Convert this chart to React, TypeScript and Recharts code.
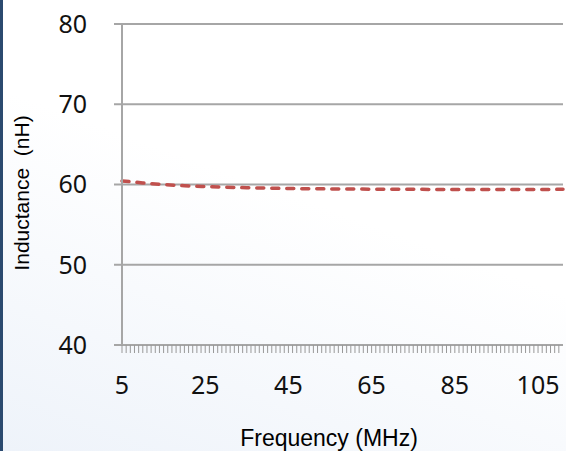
import React from 'react';
import { LineChart, Line, XAxis, YAxis, CartesianGrid, Label } from 'recharts';

const frequency = [5, 10, 15, 20, 25, 35, 45, 55, 65, 75, 85, 95, 105, 111];
const inductance = [60.45, 60.2, 60.0, 59.85, 59.75, 59.6, 59.5, 59.45, 59.42, 59.4, 59.38, 59.37, 59.38, 59.4];
const xLabels = [5, 25, 45, 65, 85, 105];
const yTicks = [40, 50, 60, 70, 80];

const data = frequency.map((f, i) => ({ f, l: inductance[i] }));
const minorTicks = Array.from({ length: 106 }, (_, i) => 5 + i);

const tickFont = "'Noto Sans', 'Open Sans', sans-serif";
const titleFont = "'Liberation Sans', Arial, sans-serif";
const grey = '#a6a6a6';

function XTick(props: any) {
  const { x, y, payload } = props;
  const showLabel = xLabels.includes(payload.value);
  return (
    <g>
      <line x1={x} y1={y} x2={x} y2={y + 8} stroke="#999" strokeWidth={1} />
      {showLabel && (
        <text x={x} y={y + 49} textAnchor="middle" fontSize={25} fill="#111" fontFamily={tickFont}>
          {payload.value}
        </text>
      )}
    </g>
  );
}

export default function App() {
  return (
    <div
      style={{
        position: 'absolute',
        left: 0,
        top: 0,
        width: 566,
        height: 451,
        background: 'linear-gradient(200deg, #ffffff 0%, #ffffff 45%, #eef3fa 100%)',
        borderLeft: '3px solid #2b4a6f',
        boxSizing: 'border-box',
      }}
    >
      <LineChart
        width={563}
        height={451}
        data={data}
        margin={{ top: 24, right: 3, bottom: 46, left: 0 }}
      >
        <CartesianGrid vertical={false} stroke={grey} strokeWidth={2} />
        <XAxis
          dataKey="f"
          type="number"
          domain={[5, 111]}
          ticks={minorTicks}
          interval={0}
          height={60}
          tickLine={false}
          tickSize={0}
          tickMargin={0}
          axisLine={{ stroke: grey, strokeWidth: 2 }}
          tick={<XTick />}
        >
          <Label
            content={() => (
              <text x={326} y={446} textAnchor="middle" fontSize={23} fill="#000" fontFamily={titleFont}>
                Frequency (MHz)
              </text>
            )}
          />
        </XAxis>
        <YAxis
          type="number"
          domain={[40, 80]}
          ticks={yTicks}
          width={119}
          tickSize={8}
          tickMargin={27}
          tickLine={{ stroke: grey, strokeWidth: 2 }}
          axisLine={{ stroke: grey, strokeWidth: 2 }}
          tick={{ fontSize: 25, fill: '#111', fontFamily: tickFont }}
        >
          <Label
            content={() => (
              <text
                x={26}
                y={193}
                transform="rotate(-90 26 193)"
                textAnchor="middle"
                fontSize={21}
                fill="#000"
                fontFamily={titleFont}
                xmlSpace="preserve"
              >
                Inductance  (nH)
              </text>
            )}
          />
        </YAxis>
        <Line
          type="monotone"
          dataKey="l"
          stroke="#c0504d"
          strokeWidth={3.5}
          strokeDasharray="7 8"
          strokeLinecap="round"
          dot={false}
          isAnimationActive={false}
        />
      </LineChart>
    </div>
  );
}
